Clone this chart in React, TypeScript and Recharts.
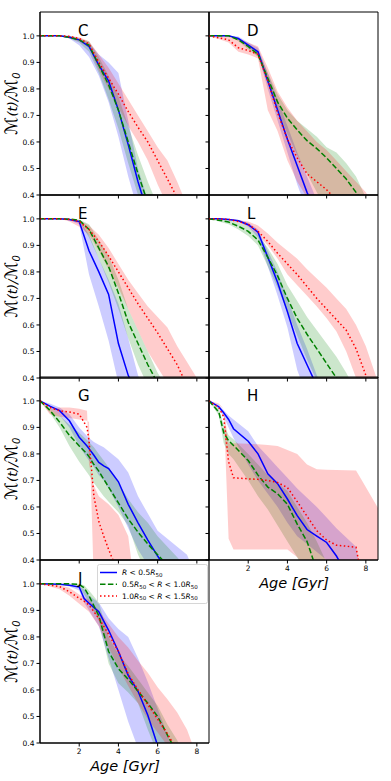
import { Area, ComposedChart, Line, ReferenceArea, XAxis, YAxis } from "recharts";

// age grids (Gyr) and median / lower / upper mass fraction per panel
const cAge = [0, 1, 1.5, 2, 2.5, 3, 3.5, 4, 4.5, 5, 5.5, 6, 6.5, 7, 7.5];
const cBlue = [1, 1, 0.995, 0.985, 0.96, 0.89, 0.83, 0.72, 0.59, 0.45, 0.33];
const cBlueLo = [1, 1, 0.99, 0.965, 0.92, 0.85, 0.75, 0.62, 0.47, 0.34];
const cBlueHi = [1, 1, 1, 0.99, 0.975, 0.93, 0.9, 0.86, 0.68, 0.5, 0.38];
const cGreen = [1, 1, 0.995, 0.985, 0.965, 0.89, 0.815, 0.72, 0.6, 0.48, 0.37];
const cGreenLo = [1, 1, 0.99, 0.975, 0.94, 0.86, 0.76, 0.65, 0.52, 0.4, 0.3];
const cGreenHi = [1, 1, 1, 0.99, 0.98, 0.92, 0.85, 0.77, 0.66, 0.55, 0.45, 0.36];
const cRed = [1, 1, 0.998, 0.99, 0.97, 0.9, 0.84, 0.78, 0.715, 0.655, 0.6, 0.53, 0.46, 0.39];
const cRedLo = [1, 1, 0.99, 0.98, 0.955, 0.87, 0.8, 0.73, 0.66, 0.6, 0.53, 0.44, 0.36];
const cRedHi = [1, 1, 1, 0.995, 0.98, 0.93, 0.88, 0.82, 0.76, 0.7, 0.64, 0.58, 0.53, 0.45, 0.36];

const dAge = [0, 1, 1.5, 2, 2.5, 3, 3.5, 4, 4.5, 5, 5.5, 6, 6.5, 7, 7.5, 8, 8.5];
const dBlue = [1, 1, 0.99, 0.965, 0.94, 0.83, 0.72, 0.61, 0.51, 0.41, 0.33];
const dBlueLo = [1, 1, 0.985, 0.955, 0.93, 0.8, 0.68, 0.56, 0.44, 0.34];
const dBlueHi = [1, 1, 0.998, 0.975, 0.955, 0.86, 0.76, 0.66, 0.56, 0.47, 0.38];
const dGreen = [1, 1, 0.985, 0.96, 0.93, 0.84, 0.75, 0.69, 0.645, 0.605, 0.575, 0.54, 0.5, 0.46, 0.41, 0.36];
const dGreenLo = [1, 1, 0.98, 0.95, 0.92, 0.82, 0.72, 0.63, 0.55, 0.48, 0.41, 0.35];
const dGreenHi = [1, 1, 0.99, 0.97, 0.945, 0.86, 0.78, 0.72, 0.68, 0.65, 0.62, 0.58, 0.56, 0.52, 0.47, 0.39, 0.33];
const dRed = [1, 0.985, 0.955, 0.945, 0.93, 0.83, 0.71, 0.61, 0.54, 0.48, 0.45, 0.42, 0.38];
const dRedLo = [1, 0.975, 0.94, 0.93, 0.915, 0.72, 0.64, 0.53, 0.45, 0.39, 0.33];
const dRedHi = [1, 1, 0.99, 0.975, 0.96, 0.88, 0.79, 0.73, 0.68, 0.64, 0.6, 0.57, 0.53, 0.49, 0.45, 0.41, 0.35];

const eAge = [0, 1, 1.5, 2, 2.5, 3, 3.5, 4, 4.5, 5, 5.5, 6, 6.5, 7, 7.5, 8, 8.5];
const eBlue = [1, 1, 0.998, 0.99, 0.88, 0.8, 0.715, 0.53, 0.41, 0.33];
const eBlueLo = [1, 1, 0.995, 0.98, 0.79, 0.67, 0.54, 0.38];
const eBlueHi = [1, 1, 1, 0.995, 0.94, 0.85, 0.77, 0.68, 0.55, 0.41, 0.33];
const eGreen = [1, 1, 0.999, 0.995, 0.96, 0.89, 0.82, 0.72, 0.61, 0.53, 0.45, 0.38];
const eGreenLo = [1, 1, 0.998, 0.99, 0.93, 0.85, 0.76, 0.66, 0.55, 0.45, 0.37];
const eGreenHi = [1, 1, 1, 0.998, 0.98, 0.92, 0.86, 0.77, 0.66, 0.58, 0.5, 0.42, 0.36];
const eRed = [1, 1, 0.998, 0.99, 0.96, 0.915, 0.86, 0.8, 0.74, 0.68, 0.625, 0.57, 0.51, 0.45, 0.37];
const eRedLo = [1, 1, 0.99, 0.97, 0.94, 0.88, 0.81, 0.74, 0.66, 0.58, 0.5, 0.44, 0.38];
const eRedHi = [1, 1, 1, 0.995, 0.975, 0.94, 0.89, 0.83, 0.77, 0.72, 0.67, 0.63, 0.59, 0.52, 0.46, 0.4, 0.33];

const lAge = [0, 0.5, 1, 1.5, 2, 2.5, 3, 3.5, 4, 4.5, 5, 5.5, 6, 6.5, 7, 7.5, 8, 8.5, 9];
const lBlue = [1, 1, 0.998, 0.993, 0.978, 0.95, 0.855, 0.76, 0.65, 0.53, 0.45, 0.37];
const lBlueLo = [1, 1, 0.997, 0.99, 0.97, 0.93, 0.82, 0.71, 0.59, 0.43, 0.33];
const lBlueHi = [1, 1, 1, 0.997, 0.985, 0.96, 0.88, 0.8, 0.7, 0.6, 0.51, 0.41, 0.34];
const lGreen = [1, 0.995, 0.988, 0.972, 0.953, 0.92, 0.855, 0.785, 0.7, 0.625, 0.565, 0.51, 0.455, 0.4, 0.35];
const lGreenLo = [1, 0.99, 0.98, 0.96, 0.935, 0.9, 0.82, 0.74, 0.65, 0.56, 0.47, 0.39, 0.32];
const lGreenHi = [1, 1, 0.995, 0.985, 0.97, 0.94, 0.89, 0.83, 0.75, 0.69, 0.63, 0.58, 0.53, 0.48, 0.42, 0.35];
const lRed = [1, 1, 0.998, 0.99, 0.98, 0.953, 0.915, 0.87, 0.83, 0.79, 0.745, 0.7, 0.66, 0.62, 0.58, 0.51, 0.41, 0.3];
const lRedLo = [1, 1, 0.997, 0.985, 0.97, 0.94, 0.9, 0.85, 0.79, 0.75, 0.71, 0.67, 0.625, 0.575, 0.5, 0.4, 0.3];
const lRedHi = [1, 1, 1, 0.995, 0.99, 0.975, 0.945, 0.91, 0.88, 0.85, 0.81, 0.775, 0.74, 0.7, 0.66, 0.6, 0.52, 0.41, 0.32];

const gAge = [0, 0.5, 1, 1.5, 2, 2.4, 2.5, 2.75, 3, 3.25, 3.5, 4, 4.5, 5, 5.5, 6, 6.5, 7, 7.5, 8];
const gBlue = [1, 0.98, 0.963, 0.925, 0.863, 0.83, 0.82, 0.795, 0.768, 0.755, 0.745, 0.695, 0.61, 0.54, 0.475, 0.415, 0.36];
const gBlueLo = [1, 0.975, 0.945, 0.9, 0.83, 0.785, 0.775, 0.75, 0.72, 0.7, 0.67, 0.6, 0.52, 0.44, 0.38, 0.33];
const gBlueHi = [1, 0.99, 0.975, 0.95, 0.9, 0.868, 0.86, 0.845, 0.835, 0.825, 0.81, 0.78, 0.73, 0.64, 0.575, 0.51, 0.48, 0.45, 0.42, 0.33];
const gGreen = [1, 0.965, 0.92, 0.87, 0.83, 0.8, 0.79, 0.76, 0.735, 0.705, 0.675, 0.615, 0.555, 0.505, 0.46, 0.42, 0.38];
const gGreenLo = [1, 0.955, 0.9, 0.83, 0.77, 0.73, 0.72, 0.69, 0.665, 0.64, 0.62, 0.58, 0.53, 0.42, 0.34];
const gGreenHi = [1, 0.975, 0.945, 0.91, 0.88, 0.852, 0.845, 0.825, 0.8, 0.775, 0.75, 0.69, 0.63, 0.58, 0.54, 0.49, 0.45, 0.41, 0.37];
const gRed = [1, 0.975, 0.963, 0.958, 0.95, 0.9, 0.85, 0.64, 0.545, 0.49, 0.44, 0.35];
const gRedLo = [1, 0.95, 0.94, 0.935, 0.93, 0.925, 0.92, 0.3];
const gRedHi = [1, 0.97, 0.975, 0.975, 0.97, 0.963, 0.76, 0.68, 0.64, 0.625, 0.61, 0.57, 0.49, 0.2];

const hAge = [0, 0.5, 0.75, 1, 1.25, 2, 2.5, 3, 3.5, 4, 4.5, 5, 5.5, 6, 6.5, 7, 7.5, 7.75, 8.5, 9];
const hBlue = [1, 0.978, 0.955, 0.93, 0.895, 0.848, 0.8, 0.725, 0.688, 0.63, 0.567, 0.515, 0.49, 0.466, 0.415, 0.35];
const hBlueLo = [1, 0.97, 0.94, 0.9, 0.86, 0.76, 0.7, 0.65, 0.6, 0.54, 0.49, 0.46, 0.43, 0.4, 0.35];
const hBlueHi = [1, 0.985, 0.965, 0.945, 0.93, 0.885, 0.83, 0.79, 0.75, 0.71, 0.67, 0.635, 0.6, 0.56, 0.52, 0.485, 0.45, 0.35];
const hGreen = [1, 0.958, 0.88, 0.85, 0.832, 0.775, 0.72, 0.675, 0.65, 0.61, 0.535, 0.47, 0.36];
const hGreenLo = [1, 0.945, 0.84, 0.8, 0.78, 0.7, 0.64, 0.59, 0.53, 0.47, 0.41, 0.33];
const hGreenHi = [1, 0.97, 0.91, 0.87, 0.855, 0.8, 0.76, 0.72, 0.69, 0.66, 0.6, 0.54, 0.47, 0.39];
const hRed = [1, 0.975, 0.94, 0.77, 0.71, 0.706, 0.704, 0.7, 0.692, 0.673, 0.62, 0.565, 0.51, 0.475, 0.456, 0.452, 0.448, 0.35];
const hRedLo = [1, 0.985, 0.97, 0.48, 0.44, 0.44, 0.44, 0.44, 0.44, 0.44, 0.41, 0.36];
const hRedHi = [1, 0.99, 0.97, 0.84, 0.84, 0.838, 0.836, 0.834, 0.83, 0.815, 0.8, 0.76, 0.742, 0.74, 0.739, 0.738, 0.737, 0.706, 0.611, 0.55];

const jAge = [0, 1, 1.5, 2, 2.25, 2.5, 3, 3.5, 4, 4.5, 5, 5.5, 6, 6.5, 7, 7.5, 8];
const jBlue = [1, 0.999, 0.995, 0.988, 0.945, 0.927, 0.895, 0.825, 0.745, 0.655, 0.595, 0.505, 0.39];
const jBlueLo = [1, 0.998, 0.99, 0.975, 0.93, 0.9, 0.84, 0.72, 0.6, 0.48, 0.38, 0.33];
const jBlueHi = [1, 1, 0.998, 0.99, 0.98, 0.955, 0.93, 0.87, 0.83, 0.8, 0.72, 0.63, 0.53, 0.43, 0.35];
const jGreen = [1, 1, 1, 0.998, 0.985, 0.955, 0.88, 0.745, 0.68, 0.64, 0.595, 0.55, 0.5, 0.43, 0.36];
const jGreenLo = [1, 1, 0.998, 0.99, 0.96, 0.93, 0.86, 0.7, 0.625, 0.59, 0.55, 0.45, 0.36];
const jGreenHi = [1, 1, 1, 1, 0.995, 0.975, 0.93, 0.8, 0.735, 0.69, 0.64, 0.59, 0.54, 0.47, 0.41, 0.33];
const jRed = [1, 0.99, 0.97, 0.946, 0.935, 0.92, 0.87, 0.81, 0.745, 0.66, 0.6, 0.545, 0.49, 0.435, 0.37];
const jRedLo = [1, 0.98, 0.955, 0.925, 0.91, 0.895, 0.84, 0.76, 0.685, 0.615, 0.55, 0.49, 0.44, 0.39, 0.33];
const jRedHi = [1, 0.995, 0.985, 0.96, 0.95, 0.94, 0.9, 0.85, 0.8, 0.76, 0.71, 0.665, 0.61, 0.565, 0.515, 0.45, 0.35];

const xTicks = [2, 4, 6, 8];
const yTicks = [0.4, 0.5, 0.6, 0.7, 0.8, 0.9, 1.0];

const BLUE = "#0000ff";
const GREEN = "#008000";
const RED = "#ff0000";
const FONT = "DejaVu Sans";

const PLOT_W = 169;
const PLOT_H = 183;
const colLeft = [40, 209];
const rowTop = (r: number) => 12 + r * 182.7;

const at = (arr: number[], i: number) => (i < arr.length ? arr[i] : null);

function buildRows(age: number[], s: number[][]) {
  return age.map((a, i) => ({
    age: a,
    b: at(s[0], i), bl: at(s[1], i), bh: at(s[2], i),
    g: at(s[3], i), gl: at(s[4], i), gh: at(s[5], i),
    r: at(s[6], i), rl: at(s[7], i), rh: at(s[8], i),
  }));
}

const band = (lo: string, hi: string) => (d: any) =>
  d[hi] == null ? null : [d[lo] ?? 0.2, d[hi]];

const panels = [
  { id: "C", col: 0, row: 0, age: cAge, s: [cBlue, cBlueLo, cBlueHi, cGreen, cGreenLo, cGreenHi, cRed, cRedLo, cRedHi], xl: false },
  { id: "D", col: 1, row: 0, age: dAge, s: [dBlue, dBlueLo, dBlueHi, dGreen, dGreenLo, dGreenHi, dRed, dRedLo, dRedHi], xl: false },
  { id: "E", col: 0, row: 1, age: eAge, s: [eBlue, eBlueLo, eBlueHi, eGreen, eGreenLo, eGreenHi, eRed, eRedLo, eRedHi], xl: false },
  { id: "L", col: 1, row: 1, age: lAge, s: [lBlue, lBlueLo, lBlueHi, lGreen, lGreenLo, lGreenHi, lRed, lRedLo, lRedHi], xl: false },
  { id: "G", col: 0, row: 2, age: gAge, s: [gBlue, gBlueLo, gBlueHi, gGreen, gGreenLo, gGreenHi, gRed, gRedLo, gRedHi], xl: false },
  { id: "H", col: 1, row: 2, age: hAge, s: [hBlue, hBlueLo, hBlueHi, hGreen, hGreenLo, hGreenHi, hRed, hRedLo, hRedHi], xl: true },
  { id: "J", col: 0, row: 3, age: jAge, s: [jBlue, jBlueLo, jBlueHi, jGreen, jGreenLo, jGreenHi, jRed, jRedLo, jRedHi], xl: true },
];

const tickStyle = { fontSize: 7.5, fill: "#000", fontFamily: FONT };

function Panel({ p }: { p: (typeof panels)[number] }) {
  const rows = buildRows(p.age, p.s);
  const left = colLeft[p.col] - 40;
  const top = rowTop(p.row) - 2;
  return (
    <div style={{ position: "absolute", left, top }}>
      <ComposedChart
        width={40 + PLOT_W + 2}
        height={2 + PLOT_H + 30}
        data={rows}
        margin={{ top: 2, right: 2, bottom: 0, left: 0 }}
      >
        <XAxis
          type="number"
          dataKey="age"
          domain={[0, 8.62]}
          allowDataOverflow
          ticks={xTicks}
          height={30}
          tickSize={3.5}
          tickMargin={2}
          axisLine={{ stroke: "#000" }}
          tickLine={{ stroke: "#000" }}
          tick={tickStyle}
          tickFormatter={(v) => (p.xl ? String(v) : "")}
        />
        <YAxis
          type="number"
          domain={[0.4, 1.09]}
          allowDataOverflow
          ticks={yTicks}
          width={40}
          tickSize={3.5}
          tickMargin={2}
          axisLine={{ stroke: "#000" }}
          tickLine={{ stroke: "#000" }}
          tick={tickStyle}
          tickFormatter={(v) => (p.col === 0 ? Number(v).toFixed(1) : "")}
        />
        <Area type="linear" dataKey={band("bl", "bh")} stroke="none" fill={BLUE} fillOpacity={0.2} isAnimationActive={false} />
        <Area type="linear" dataKey={band("gl", "gh")} stroke="none" fill={GREEN} fillOpacity={0.2} isAnimationActive={false} />
        <Area type="linear" dataKey={band("rl", "rh")} stroke="none" fill={RED} fillOpacity={0.2} isAnimationActive={false} />
        <Line type="linear" dataKey="b" stroke={BLUE} strokeWidth={1.5} dot={false} isAnimationActive={false} />
        <Line type="linear" dataKey="g" stroke={GREEN} strokeWidth={1.5} strokeDasharray="5.5 2.4" dot={false} isAnimationActive={false} />
        <Line type="linear" dataKey="r" stroke={RED} strokeWidth={1.5} strokeDasharray="1.5 2.5" dot={false} isAnimationActive={false} />
        <ReferenceArea x1={0} x2={8.62} y1={0.4} y2={1.09} fill="none" stroke="#000" strokeWidth={1} />
      </ComposedChart>
    </div>
  );
}

const legendItems = [
  { color: BLUE, dash: undefined, parts: [["R", "i"], [" < 0.5", ""], ["R", "i"], ["50", "s"]] },
  { color: GREEN, dash: "5.5 2.4", parts: [["0.5", ""], ["R", "i"], ["50", "s"], [" < ", ""], ["R", "i"], [" < 1.0", ""], ["R", "i"], ["50", "s"]] },
  { color: RED, dash: "1.5 2.5", parts: [["1.0", ""], ["R", "i"], ["50", "s"], [" < ", ""], ["R", "i"], [" < 1.5", ""], ["R", "i"], ["50", "s"]] },
];

function Overlay() {
  return (
    <svg width={391} height={781} style={{ position: "absolute", left: 0, top: 0, pointerEvents: "none" }} fontFamily={FONT}>
      {panels.map((p) => (
        <text key={p.id} x={colLeft[p.col] + 38} y={rowTop(p.row) + 24} fontSize={15} fill="#000">
          {p.id}
        </text>
      ))}
      {[0, 1, 2, 3].map((r) => (
        <text
          key={r}
          transform={`translate(16.5, ${rowTop(r) + PLOT_H / 2}) rotate(-90)`}
          textAnchor="middle"
          fontSize={13}
          fontStyle="italic"
          fill="#000"
        >
          <tspan fontSize={17}>ℳ</tspan>(t)/<tspan fontSize={17}>ℳ</tspan>
          <tspan fontSize={10} dy={3}>0</tspan>
        </text>
      ))}
      <text x={294} y={588} textAnchor="middle" fontSize={14.5} fontStyle="italic" fill="#000">Age [Gyr]</text>
      <text x={125} y={771} textAnchor="middle" fontSize={14.5} fontStyle="italic" fill="#000">Age [Gyr]</text>
      <rect x={97.5} y={564.5} width={110} height={39} rx={2} fill="#fff" fillOpacity={0.8} stroke="#cccccc" strokeWidth={0.8} />
      {legendItems.map((it, k) => {
        const y = 572.5 + k * 11.7;
        let sub = false;
        return (
          <g key={k}>
            <line x1={100} x2={117} y1={y} y2={y} stroke={it.color} strokeWidth={1.5} strokeDasharray={it.dash} />
            <text x={122} y={y + 2.7} fontSize={7.5} fill="#000">
              {it.parts.map(([t, kind], j) => {
                let dy = 0;
                if (kind === "s" && !sub) { dy = 1.6; sub = true; }
                else if (kind !== "s" && sub) { dy = -1.6; sub = false; }
                return (
                  <tspan key={j} dy={dy} fontStyle={kind === "i" ? "italic" : "normal"} fontSize={kind === "s" ? 5.5 : 7.5}>
                    {t}
                  </tspan>
                );
              })}
            </text>
          </g>
        );
      })}
    </svg>
  );
}

export default function App() {
  return (
    <div style={{ position: "absolute", left: 0, top: 0, width: 391, height: 781, background: "#fff", fontFamily: FONT }}>
      {panels.map((p) => (
        <Panel key={p.id} p={p} />
      ))}
      <Overlay />
    </div>
  );
}
